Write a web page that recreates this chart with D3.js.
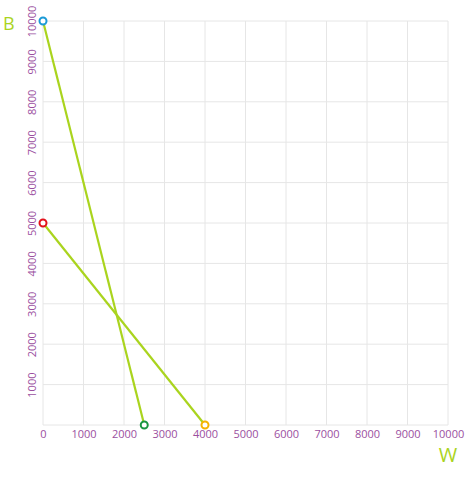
<!DOCTYPE html>
<html><head><meta charset="utf-8">
<script src="https://cdn.jsdelivr.net/npm/d3@7"></script>
<style>
html,body{margin:0;padding:0;background:#fff;}
svg{display:block;}
</style>
</head><body>
<svg id="chart" width="474" height="477"></svg>
<script>
const xTicks = [0,1000,2000,3000,4000,5000,6000,7000,8000,9000,10000];
const yTicks = [1000,2000,3000,4000,5000,6000,7000,8000,9000,10000];
const line1 = [{w:0,b:10000},{w:2500,b:0}];
const line2 = [{w:0,b:5000},{w:4000,b:0}];
const pointColors1 = ["#1b9ad6","#1a9641"];
const pointColors2 = ["#e3111b","#f5b400"];
const xTitle = "W";
const yTitle = "B";

const svg = d3.select("#chart");
const W = 474, H = 477;
const m = {left:43, right:26, top:21, bottom:52};
const x = d3.scaleLinear().domain([0,10000]).range([m.left, W-m.right]);
const y = d3.scaleLinear().domain([0,10000]).range([H-m.bottom, m.top]);

const grid = "#e6e6e6";
const tickColor = "#9b4f9f";
const green = "#aad41e";
const font = "'Open Sans', sans-serif";

// grid lines
svg.append("g").selectAll("line").data(xTicks).join("line")
  .attr("x1", d=>x(d)).attr("x2", d=>x(d))
  .attr("y1", y(0)).attr("y2", y(10000))
  .attr("stroke", grid).attr("stroke-width", 1);
svg.append("g").selectAll("line").data([0].concat(yTicks)).join("line")
  .attr("x1", x(0)).attr("x2", x(10000))
  .attr("y1", d=>y(d)).attr("y2", d=>y(d))
  .attr("stroke", grid).attr("stroke-width", 1);

// x axis
const xAxis = svg.append("g").attr("transform", `translate(0,${y(0)})`)
  .call(d3.axisBottom(x).tickValues(xTicks).tickSize(0).tickPadding(5).tickFormat(d3.format("d")));
xAxis.select(".domain").remove();
xAxis.selectAll("text").attr("fill", tickColor).style("font-family", font).style("font-size","11px");

// y axis
const yAxis = svg.append("g").attr("transform", `translate(${x(0)},0)`)
  .call(d3.axisLeft(y).tickValues(yTicks).tickSize(0).tickPadding(0).tickFormat(d3.format("d")));
yAxis.select(".domain").remove();
yAxis.selectAll(".tick text")
  .attr("x", null).attr("dy", null)
  .attr("text-anchor","middle")
  .attr("transform","translate(-11,0) rotate(-90)")
  .attr("dy","0.35em")
  .attr("fill", tickColor).style("font-family", font).style("font-size","11px");

// titles
svg.append("text").attr("x", 3).attr("y", 30).text(yTitle)
  .attr("fill", green).style("font-family", font).style("font-size","18px");
svg.append("text").attr("x", x(10000)).attr("y", 462).attr("text-anchor","middle").text(xTitle)
  .attr("fill", green).style("font-family", font).style("font-size","20px");

// lines
const lineGen = d3.line().x(d=>x(d.w)).y(d=>y(d.b));
[line1, line2].forEach(data => {
  svg.append("path").datum(data).attr("d", lineGen)
    .attr("fill","none").attr("stroke", green).attr("stroke-width", 2.2);
});

// points
[[line1, pointColors1],[line2, pointColors2]].forEach(([data, cols]) => {
  svg.append("g").selectAll("circle").data(data).join("circle")
    .attr("cx", d=>x(d.w)).attr("cy", d=>y(d.b)).attr("r", 3.5)
    .attr("fill","#fff").attr("stroke", (d,i)=>cols[i]).attr("stroke-width", 2);
});
</script>
</body></html>
